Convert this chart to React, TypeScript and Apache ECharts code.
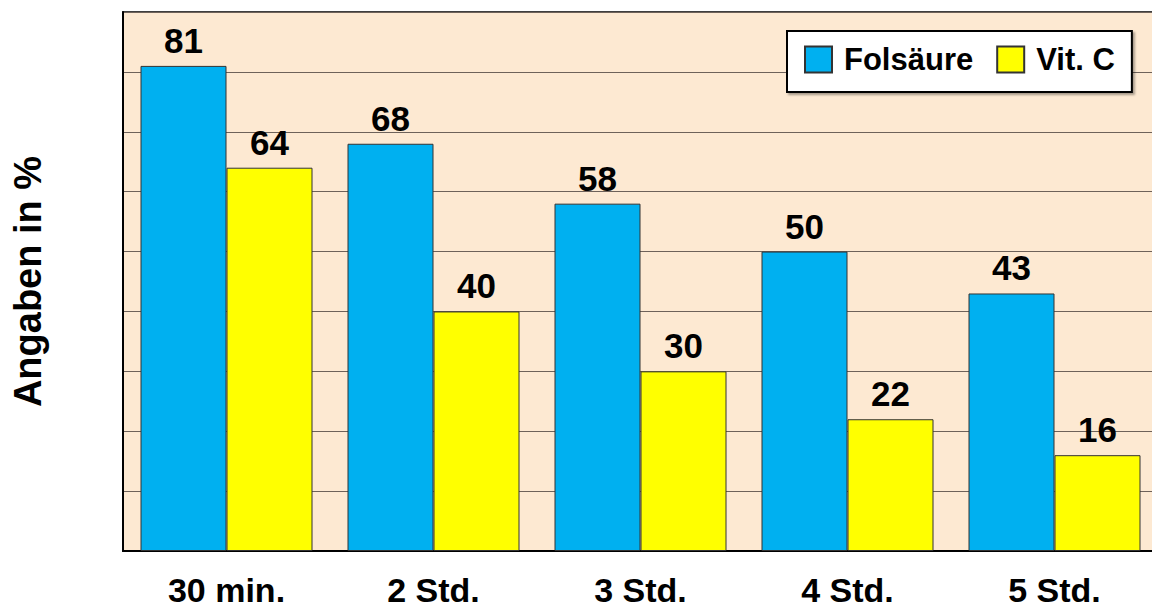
import React, { useEffect, useRef } from "react";
import * as echarts from "echarts";

const categories = ["30 min.", "2 Std.", "3 Std.", "4 Std.", "5 Std."];
const folsaeure = [81, 68, 58, 50, 43];
const vitC = [64, 40, 30, 22, 16];
const seriesNames = ["Folsäure", "Vit. C"];
const yAxisName = "Angaben in %";

const FONT = "'Liberation Sans', Arial, Helvetica, sans-serif";

export default function App() {
  const ref = useRef<HTMLDivElement>(null);
  useEffect(() => {
    if (!ref.current) return;
    const chart = echarts.init(ref.current, undefined, { renderer: "svg" });
    const labelStyle = {
      show: true,
      position: "top" as const,
      distance: 8,
      fontSize: 35,
      fontWeight: "bold" as const,
      color: "#000",
      fontFamily: FONT,
    };
    chart.setOption({
      animation: false,
      backgroundColor: "#ffffff",
      textStyle: { fontFamily: FONT },
      grid: {
        left: 123,
        top: 12,
        right: -6,
        bottom: 57,
        containLabel: false,
        outerBoundsMode: "none",
        show: true,
        backgroundColor: "#FDE9D2",
        borderColor: "#000",
        borderWidth: 1.5,
      },
      legend: {
        left: 787,
        top: 31,
        padding: [13, 17, 17, 17],
        itemWidth: 27,
        itemHeight: 26,
        itemGap: 23,
        backgroundColor: "#ffffff",
        borderColor: "#000",
        borderWidth: 2,
        borderRadius: 0,
        shadowColor: "rgba(0,0,0,0.35)",
        shadowOffsetX: 2,
        shadowOffsetY: 2,
        shadowBlur: 2,
        data: seriesNames.map((n) => ({ name: n, icon: "rect" })),
        textStyle: {
          fontSize: 31,
          fontWeight: "bold",
          color: "#000",
          fontFamily: FONT,
          padding: [0, 0, 0, 7],
        },
      },
      xAxis: {
        type: "category",
        data: categories,
        axisTick: { show: false },
        axisLine: { show: true, lineStyle: { color: "#000", width: 2 } },
        axisLabel: {
          margin: 22,
          fontSize: 34,
          lineHeight: 34,
          fontWeight: "bold",
          color: "#000",
          fontFamily: FONT,
        },
      },
      yAxis: {
        type: "value",
        min: 0,
        max: 90,
        interval: 10,
        name: yAxisName,
        nameLocation: "middle",
        nameRotate: 90,
        nameGap: 76,
        nameTextStyle: {
          fontSize: 38,
          fontWeight: "bold",
          color: "#000",
          fontFamily: FONT,
        },
        axisLabel: { show: false },
        axisTick: { show: false },
        axisLine: { show: true, lineStyle: { color: "#000", width: 2 } },
        splitLine: { show: true, lineStyle: { color: "#6e625a", width: 1 } },
      },
      series: [
        {
          name: seriesNames[0],
          type: "bar",
          data: folsaeure,
          barWidth: 86,
          barGap: "0%",
          itemStyle: { color: "#00B0F0", borderColor: "#333", borderWidth: 1 },
          label: labelStyle,
        },
        {
          name: seriesNames[1],
          type: "bar",
          data: vitC,
          barWidth: 86,
          barGap: "0%",
          itemStyle: { color: "#FFFF00", borderColor: "#333", borderWidth: 1 },
          label: labelStyle,
        },
      ],
    });
    return () => chart.dispose();
  }, []);
  return (
    <div
      ref={ref}
      style={{ position: "absolute", left: 0, top: 0, width: 1152, height: 608 }}
    />
  );
}
